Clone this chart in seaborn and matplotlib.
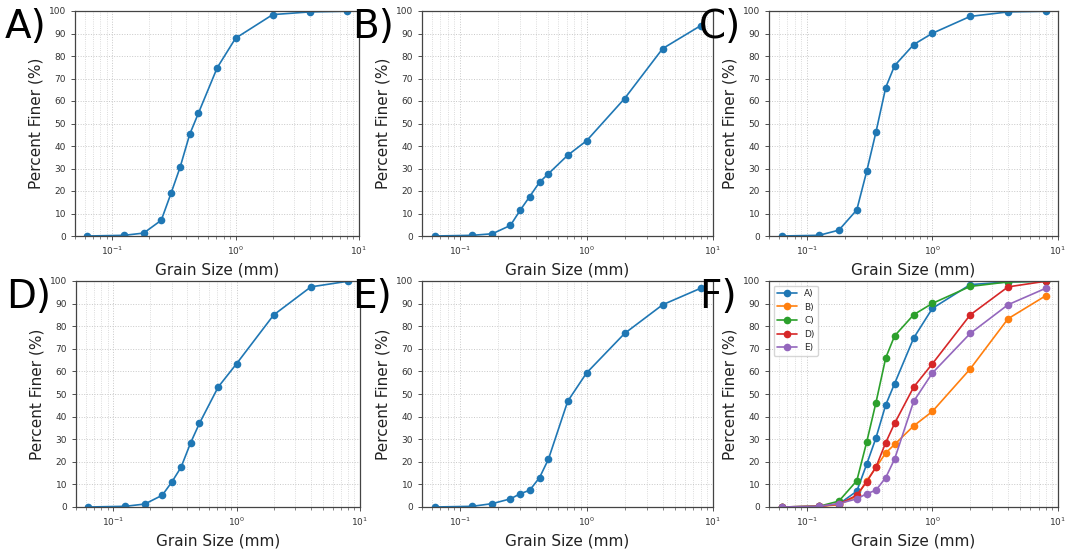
import matplotlib
matplotlib.use("Agg")
import matplotlib.pyplot as plt
import seaborn as sns
import pandas as pd

grain_size = [0.063, 0.125, 0.18, 0.25, 0.3, 0.355, 0.425, 0.5, 0.71, 1.0, 2.0, 4.0, 8.0]
sample_a = [0.0, 0.3, 1.3, 7.0, 19.0, 30.5, 45.2, 54.6, 74.8, 87.9, 98.4, 99.6, 99.9]
sample_b = [0.0, 0.3, 1.0, 4.7, 11.6, 17.5, 23.9, 27.7, 35.9, 42.3, 61.1, 83.3, 93.5]
sample_c = [0.0, 0.3, 2.6, 11.6, 28.8, 46.1, 66.0, 75.7, 85.1, 90.1, 97.6, 99.6, 99.9]
sample_d = [0.0, 0.3, 1.3, 5.2, 11.2, 17.6, 28.5, 37.0, 53.1, 63.4, 85.0, 97.4, 99.9]
sample_e = [0.0, 0.3, 1.5, 3.6, 5.9, 7.4, 13.0, 21.2, 46.8, 59.3, 76.8, 89.5, 96.8]
sample_names = ["A)", "B)", "C)", "D)", "E)"]
panel_labels = ["A)", "B)", "C)", "D)", "E)", "F)"]
y_ticks = list(range(0, 101, 10))

samples = [sample_a, sample_b, sample_c, sample_d, sample_e]
df = pd.DataFrame({
    "size": grain_size * len(samples),
    "finer": sum(samples, []),
    "sample": [n for n in sample_names for _ in grain_size],
})

sns.set_style("white")
plt.rcParams["font.family"] = ["DejaVu Sans"]
palette = sns.color_palette("tab10", 5)

fig = plt.figure(figsize=(10.68, 5.49), dpi=100)
W, H = 1068, 549
boxes = [
    (75, 11, 359, 236), (422, 11, 713, 236), (769, 11, 1058, 236),
    (76, 281, 360, 507), (422, 281, 713, 507), (769, 281, 1058, 507),
]

def style_axes(ax):
    ax.set_xscale("log")
    ax.set_xlim(0.05, 10)
    ax.set_ylim(0, 100)
    ax.set_yticks(y_ticks)
    ax.grid(which="major", color="#c8c8c8", linestyle=":", linewidth=0.7)
    ax.grid(which="minor", axis="x", color="#d0d0d0", linestyle=":", linewidth=0.6)
    ax.tick_params(axis="both", which="major", labelsize=6.5, colors="#333333",
                   length=3, width=0.6, direction="out", bottom=True, left=True)
    ax.tick_params(axis="x", which="minor", length=2, width=0.5, colors="#555555", bottom=True)
    for s in ax.spines.values():
        s.set_color("#444444")
        s.set_linewidth(0.9)
    ax.set_xlabel("Grain Size (mm)", fontsize=11, color="#222222")
    ax.set_ylabel("Percent Finer (%)", fontsize=11, color="#222222")

for i, (x0, y0, x1, y1) in enumerate(boxes):
    ax = fig.add_axes([x0 / W, 1 - y1 / H, (x1 - x0) / W, (y1 - y0) / H])
    if i < 5:
        sub = df[df["sample"] == sample_names[i]]
        sns.lineplot(data=sub, x="size", y="finer", ax=ax, color=palette[0],
                     marker="o", markersize=5.5, markeredgewidth=0, linewidth=1.2)
    else:
        sns.lineplot(data=df, x="size", y="finer", hue="sample", palette=palette, ax=ax,
                     marker="o", markersize=5.5, markeredgewidth=0, linewidth=1.2)
        leg = ax.legend(loc="upper left", fontsize=6.5, frameon=True, handlelength=2.2)
        leg.get_frame().set_edgecolor("#cccccc")
    style_axes(ax)
    fig.text(x0 / W - 70 / W, 1 - (y0 - 3) / H, panel_labels[i], fontsize=28,
             va="top", ha="left", color="black")

fig.savefig("out.png", dpi=100)
